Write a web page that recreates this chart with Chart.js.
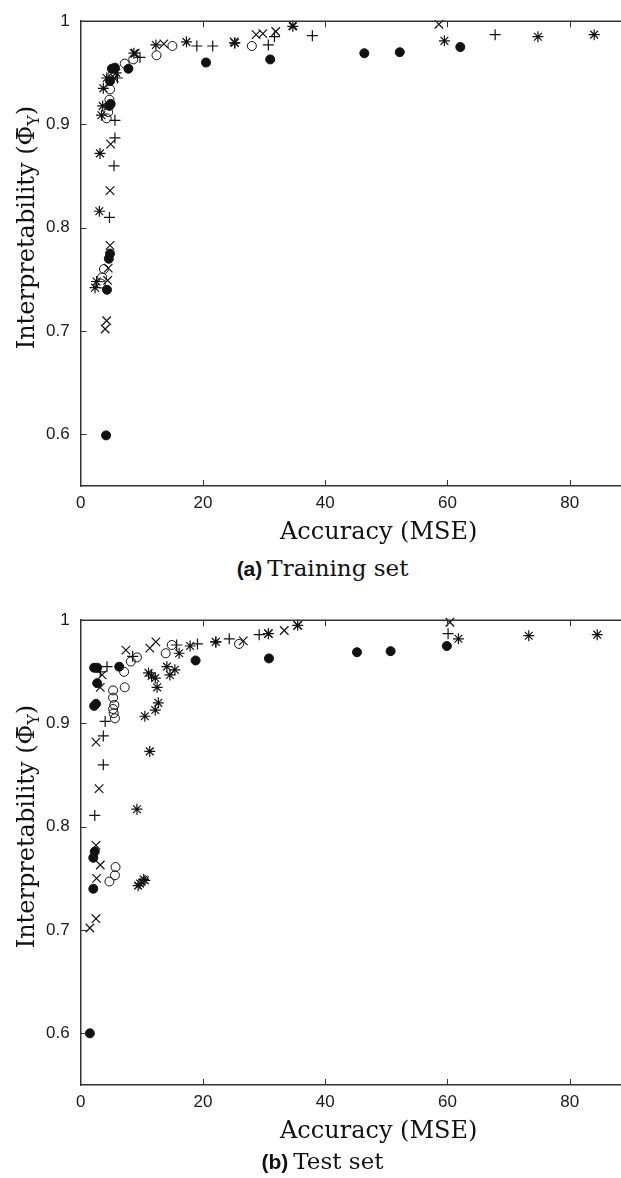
<!DOCTYPE html>
<html>
<head>
<meta charset="utf-8">
<script src="https://cdn.jsdelivr.net/npm/chart.js@4.4.1/dist/chart.umd.min.js"></script>
<style>
    html, body { margin: 0; padding: 0; background: #fff; }
    body { width: 621px; height: 1178px; overflow: hidden; position: relative; }
    canvas { position: absolute; left: 0; }
    #train-chart { top: 0; }
    #test-chart { top: 599px; }
    .caption { position: absolute; left: 12px; width: 621px; text-align: center; color: #111; white-space: nowrap; line-height: 28px; }
    .caption b { font-family: "Liberation Sans", Arial, sans-serif; font-size: 21px; }
    .caption span { font-family: "DejaVu Serif", serif; font-size: 23px; margin-left: 5px; }
    #train-caption { top: 554px; }
    #test-caption { top: 1147px; }
</style>
</head>
<body>
<canvas id="train-chart" width="690" height="550"></canvas>
<canvas id="test-chart" width="690" height="550"></canvas>
<div class="caption" id="train-caption"><b>(a)</b><span>Training set</span></div>
<div class="caption" id="test-caption"><b>(b)</b><span>Test set</span></div>
<script>
const xTicks = [0, 20, 40, 60, 80];
const yTicks = [0.6, 0.7, 0.8, 0.9, 1];

// (a) training set: [MSE, interpretability]
const trainDots = [[4.15, 0.599], [4.3, 0.740], [4.6, 0.770], [4.8, 0.775], [4.7, 0.918], [4.9, 0.920], [4.8, 0.942], [5.1, 0.954], [5.6, 0.955], [7.8, 0.954], [20.5, 0.960], [31.0, 0.963], [46.4, 0.969], [52.2, 0.970], [62.1, 0.975]];
const trainRings = [[3.3, 0.746], [3.5, 0.752], [3.8, 0.760], [4.25, 0.906], [4.5, 0.912], [4.7, 0.924], [4.8, 0.934], [5.2, 0.948], [7.2, 0.959], [8.6, 0.963], [12.4, 0.967], [15.0, 0.976], [28.0, 0.976]];
const trainPlus = [[4.7, 0.810], [5.45, 0.860], [5.6, 0.887], [5.6, 0.904], [6.0, 0.945], [9.7, 0.965], [19.0, 0.976], [21.6, 0.976], [25.2, 0.979], [30.7, 0.977], [31.7, 0.985], [37.9, 0.986], [67.8, 0.987]];
const trainCross = [[4.0, 0.702], [4.25, 0.710], [4.4, 0.749], [4.5, 0.761], [4.8, 0.783], [4.8, 0.836], [4.9, 0.881], [5.5, 0.945], [8.9, 0.969], [13.6, 0.978], [25.1, 0.980], [28.7, 0.987], [29.8, 0.988], [31.9, 0.990], [34.7, 0.996], [58.6, 0.997]];
const trainStar = [[2.35, 0.742], [2.6, 0.748], [3.05, 0.816], [3.15, 0.872], [3.4, 0.909], [3.6, 0.918], [3.7, 0.935], [4.25, 0.945], [5.8, 0.950], [8.7, 0.969], [12.3, 0.977], [17.3, 0.980], [25.2, 0.979], [34.7, 0.995], [59.5, 0.981], [74.8, 0.985], [84.0, 0.987]];

// (b) test set
const testDots = [[1.5, 0.600], [2.06, 0.740], [2.06, 0.770], [2.3, 0.776], [2.2, 0.917], [2.5, 0.919], [2.7, 0.939], [2.2, 0.954], [2.7, 0.954], [6.3, 0.955], [18.8, 0.961], [30.8, 0.963], [45.2, 0.969], [50.7, 0.970], [59.9, 0.975]];
const testRings = [[4.7, 0.747], [5.6, 0.753], [5.7, 0.761], [5.6, 0.905], [5.4, 0.910], [5.3, 0.914], [5.5, 0.918], [5.3, 0.925], [5.3, 0.932], [7.2, 0.935], [7.1, 0.950], [8.2, 0.960], [9.2, 0.964], [13.9, 0.968], [14.9, 0.976], [25.9, 0.977]];
const testPlus = [[2.3, 0.811], [3.7, 0.860], [3.7, 0.888], [4.0, 0.902], [3.2, 0.950], [4.3, 0.955], [8.5, 0.965], [15.7, 0.976], [19.1, 0.977], [22.1, 0.979], [24.3, 0.982], [29.2, 0.986], [60.1, 0.987]];
const testCross = [[1.5, 0.702], [2.5, 0.711], [2.6, 0.750], [3.2, 0.763], [2.5, 0.782], [3.0, 0.837], [2.5, 0.882], [3.2, 0.935], [3.5, 0.947], [7.4, 0.971], [11.3, 0.973], [12.3, 0.979], [26.6, 0.980], [30.7, 0.987], [33.3, 0.990], [35.5, 0.995], [60.4, 0.998]];
const testStar = [[9.4, 0.743], [9.7, 0.745], [10.3, 0.749], [10.5, 0.748], [9.2, 0.817], [11.3, 0.873], [10.5, 0.907], [12.2, 0.913], [12.7, 0.920], [12.5, 0.935], [11.1, 0.949], [11.6, 0.946], [12.2, 0.944], [14.1, 0.955], [14.6, 0.947], [15.4, 0.952], [16.1, 0.968], [17.9, 0.975], [22.1, 0.979], [30.7, 0.987], [35.5, 0.995], [61.8, 0.982], [73.3, 0.985], [84.5, 0.986]];

const INK = '#111';
const AXIS = '#333';
const SERIF = '"DejaVu Serif", "Liberation Serif", serif';
const SANS = '"Liberation Sans", Arial, sans-serif';

function toPoints(pairs) {
    return pairs.map(p => ({ x: p[0], y: p[1] }));
}

function buildDatasets(dots, rings, plus, cross, star) {
    const common = { clip: false, borderColor: INK, pointHoverRadius: 0 };
    return [
        { ...common, label: 'dots', data: toPoints(dots), pointStyle: 'circle', pointRadius: 4.5, backgroundColor: INK, borderWidth: 1 },
        { ...common, label: 'rings', data: toPoints(rings), pointStyle: 'circle', pointRadius: 4.5, backgroundColor: 'rgba(0,0,0,0)', borderWidth: 1 },
        { ...common, label: 'plus', data: toPoints(plus), pointStyle: 'cross', pointRadius: 5.5, borderWidth: 1.2 },
        { ...common, label: 'cross', data: toPoints(cross), pointStyle: 'crossRot', pointRadius: 6, borderWidth: 1.2 },
        { ...common, label: 'star', data: toPoints(star), pointStyle: 'star', pointRadius: 5.5, borderWidth: 1.2 }
    ];
}

// inward tick marks plus the top frame line
const frameTicks = {
    id: 'frameTicks',
    afterDraw(chart) {
        const { ctx, chartArea: a, scales: { x, y } } = chart;
        ctx.save();
        ctx.strokeStyle = AXIS;
        ctx.lineWidth = 1.5;
        ctx.beginPath();
        ctx.moveTo(a.left, a.top);
        ctx.lineTo(a.right, a.top);
        ctx.stroke();
        ctx.lineWidth = 1;
        ctx.beginPath();
        x.ticks.forEach(t => {
            const px = Math.round(x.getPixelForValue(t.value)) + 0.5;
            if (px < a.left + 2) return;
            ctx.moveTo(px, a.bottom);
            ctx.lineTo(px, a.bottom - 6);
            ctx.moveTo(px, a.top);
            ctx.lineTo(px, a.top + 6);
        });
        y.ticks.forEach(t => {
            const py = Math.round(y.getPixelForValue(t.value)) + 0.5;
            ctx.moveTo(a.left, py);
            ctx.lineTo(a.left + 6, py);
        });
        ctx.stroke();
        ctx.restore();
    }
};

// rotated y title with the barred Phi and subscript Y
const yTitle = {
    id: 'yTitle',
    afterDraw(chart) {
        const { ctx, chartArea: a } = chart;
        const main = 'Interpretability (\u03A6\u0304';
        const sub = 'Y';
        const close = ')';
        ctx.save();
        ctx.fillStyle = INK;
        ctx.textBaseline = 'alphabetic';
        ctx.font = '24px ' + SERIF;
        const w1 = ctx.measureText(main).width;
        const w3 = ctx.measureText(close).width;
        ctx.font = '16px ' + SERIF;
        const w2 = ctx.measureText(sub).width;
        const total = w1 + w2 + w3;
        const cy = (a.top + a.bottom) / 2 - 26;
        ctx.translate(34, cy);
        ctx.rotate(-Math.PI / 2);
        let x0 = -total / 2;
        ctx.font = '24px ' + SERIF;
        ctx.fillText(main, x0, 0);
        ctx.font = '16px ' + SERIF;
        ctx.fillText(sub, x0 + w1, 5);
        ctx.font = '24px ' + SERIF;
        ctx.fillText(close, x0 + w1 + w2, 0);
        ctx.restore();
    }
};

function makeOptions() {
    return {
        responsive: false,
        animation: false,
        devicePixelRatio: 1,
        layout: { padding: { top: 19.3, right: 13.3, left: 0, bottom: 0 } },
        plugins: { legend: { display: false }, tooltip: { enabled: false } },
        scales: {
            x: {
                type: 'linear',
                min: 0,
                max: 97.5,
                afterBuildTicks: scale => { scale.ticks = xTicks.map(v => ({ value: v })); },
                afterFit: scale => { scale.height = 64; },
                grid: { display: false, drawTicks: false },
                border: { display: true, color: AXIS, width: 1.5 },
                ticks: { color: '#1a1a1a', font: { family: SANS, size: 17 }, padding: 7, maxRotation: 0 },
                title: { display: true, text: 'Accuracy (MSE)', color: INK, font: { family: SERIF, size: 24 }, padding: { top: 0, bottom: 2.6 } }
            },
            y: {
                type: 'linear',
                min: 0.55,
                max: 1,
                afterBuildTicks: scale => { scale.ticks = yTicks.map(v => ({ value: v })); },
                afterFit: scale => { scale.width = 80.7; },
                grid: { display: false, drawTicks: false },
                border: { display: true, color: AXIS, width: 1.5 },
                ticks: { color: '#1a1a1a', font: { family: SANS, size: 17 }, padding: 11, callback: v => String(v) }
            }
        }
    };
}

function drawPanel(canvasId, datasets) {
    const ctx = document.getElementById(canvasId).getContext('2d');
    return new Chart(ctx, {
        type: 'scatter',
        data: { datasets },
        options: makeOptions(),
        plugins: [frameTicks, yTitle]
    });
}

drawPanel('train-chart', buildDatasets(trainDots, trainRings, trainPlus, trainCross, trainStar));
drawPanel('test-chart', buildDatasets(testDots, testRings, testPlus, testCross, testStar));
</script>
</body>
</html>
